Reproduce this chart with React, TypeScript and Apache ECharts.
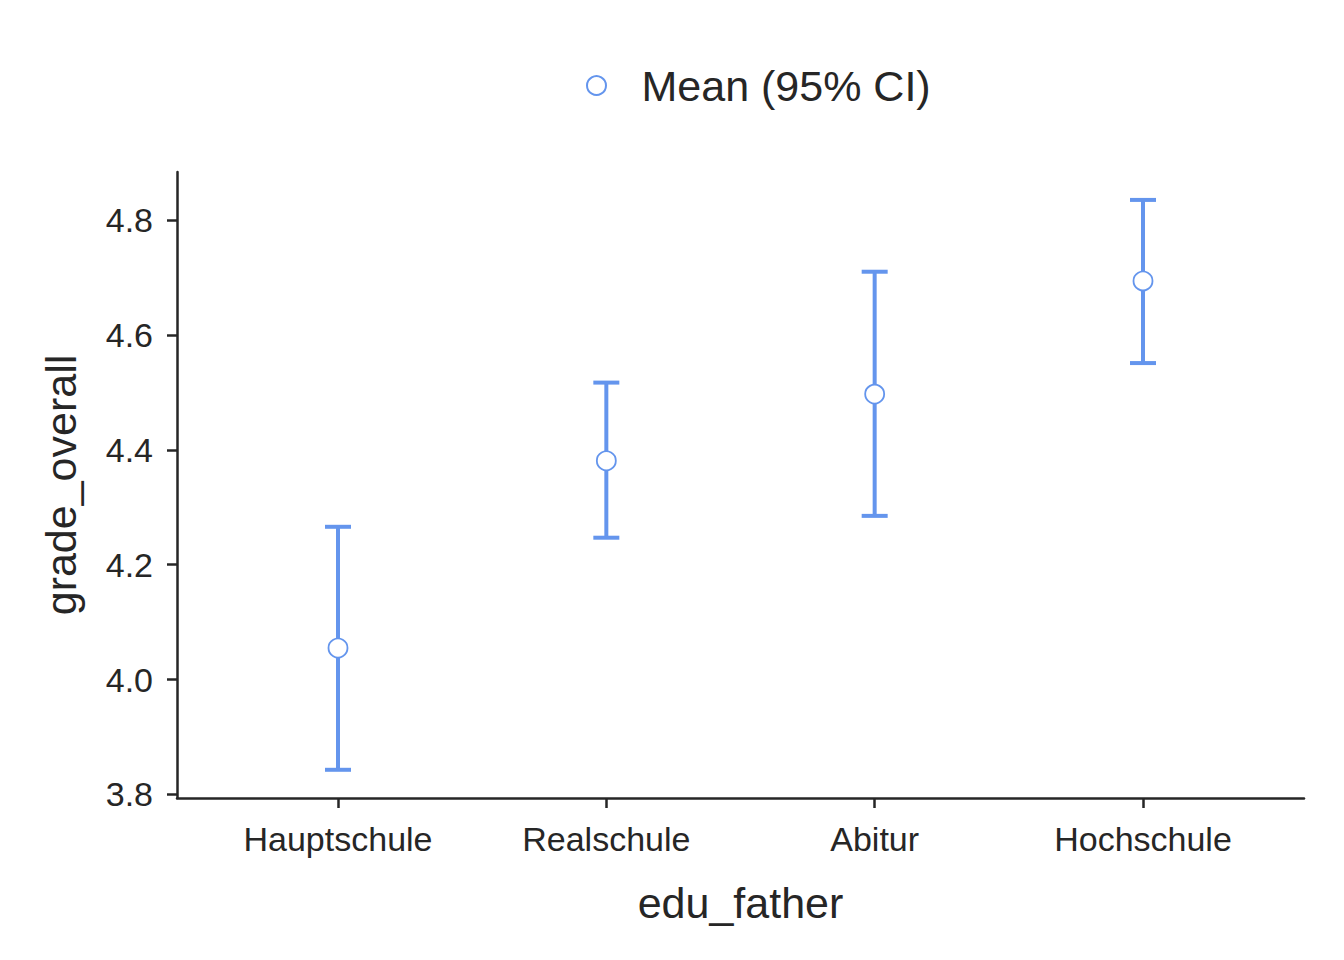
import React, { useEffect, useRef } from "react";
import * as echarts from "echarts";

const categories = ["Hauptschule", "Realschule", "Abitur", "Hochschule"];
const means = [4.055, 4.381, 4.497, 4.694];
const lower = [3.843, 4.247, 4.285, 4.551];
const upper = [4.266, 4.517, 4.710, 4.835];
const yTicks = [3.8, 4.0, 4.2, 4.4, 4.6, 4.8];
const seriesName = "Mean (95% CI)";

const BLUE = "#6495ED";
const DARK = "#262626";
const FONT = "'Liberation Sans', Arial, Helvetica, sans-serif";

export default function App() {
  const ref = useRef<HTMLDivElement>(null);
  useEffect(() => {
    if (!ref.current) return;
    const chart = echarts.init(ref.current, undefined, { renderer: "svg" });
    const xIdx = categories.map((_, i) => i);
    chart.setOption({
      animation: false,
      backgroundColor: "#ffffff",
      textStyle: { fontFamily: FONT },
      legend: {
        top: 59,
        left: 581,
        itemWidth: 80,
        itemHeight: 19,
        textStyle: { fontSize: 43, color: DARK, fontFamily: FONT },
        data: [
          {
            name: seriesName,
            icon: "circle",
            itemStyle: { color: "#ffffff", borderColor: BLUE, borderWidth: 2 },
          },
        ],
      },
      grid: { left: 177, top: 172, right: 40, bottom: 162, containLabel: false },
      xAxis: {
        type: "value",
        min: -0.6,
        max: 3.6,
        name: "edu_father",
        nameLocation: "middle",
        nameGap: 83,
        nameTextStyle: { fontSize: 43, color: DARK, fontFamily: FONT },
        axisLine: { show: true, onZero: false, lineStyle: { color: DARK, width: 2.5 } },
        axisTick: { show: true, length: 10, lineStyle: { color: DARK, width: 2.5 }, customValues: xIdx },
        axisLabel: {
          customValues: xIdx,
          formatter: (v: number) => categories[Math.round(v)] ?? "",
          fontSize: 34,
          color: DARK,
          margin: 24,
          fontFamily: FONT,
        },
        splitLine: { show: false },
      },
      yAxis: {
        type: "value",
        min: 3.7939,
        max: 4.8836,
        name: "grade_overall",
        nameLocation: "middle",
        nameGap: 95,
        nameTextStyle: { fontSize: 43, color: DARK, fontFamily: FONT },
        axisLine: { show: true, onZero: false, lineStyle: { color: DARK, width: 2.5 } },
        axisTick: { show: true, length: 10, lineStyle: { color: DARK, width: 2.5 }, customValues: yTicks },
        axisLabel: {
          customValues: yTicks,
          formatter: (v: number) => v.toFixed(1),
          fontSize: 34,
          color: DARK,
          margin: 24,
          fontFamily: FONT,
        },
        splitLine: { show: false },
      },
      series: [
        {
          type: "custom",
          name: "CI",
          z: 2,
          data: categories.map((_, i) => [i, lower[i], upper[i]]),
          encode: { x: 0, y: [1, 2] },
          renderItem: (params: any, api: any) => {
            const x = api.value(0);
            const lo = api.coord([x, api.value(1)]);
            const hi = api.coord([x, api.value(2)]);
            const hw = 13;
            const style = { stroke: BLUE, lineWidth: 4, fill: "none" };
            return {
              type: "group",
              children: [
                { type: "line", shape: { x1: lo[0], y1: lo[1], x2: hi[0], y2: hi[1] }, style },
                { type: "line", shape: { x1: lo[0] - hw, y1: lo[1], x2: lo[0] + hw, y2: lo[1] }, style },
                { type: "line", shape: { x1: hi[0] - hw, y1: hi[1], x2: hi[0] + hw, y2: hi[1] }, style },
              ],
            };
          },
        },
        {
          type: "scatter",
          name: seriesName,
          z: 3,
          symbol: "circle",
          symbolSize: 19,
          itemStyle: { color: "#ffffff", borderColor: BLUE, borderWidth: 1.8, opacity: 1 },
          data: categories.map((_, i) => [i, means[i]]),
        },
      ],
    });
    return () => chart.dispose();
  }, []);
  return (
    <div
      ref={ref}
      style={{ position: "fixed", left: 0, top: 0, width: 1344, height: 960, background: "#fff" }}
    />
  );
}
